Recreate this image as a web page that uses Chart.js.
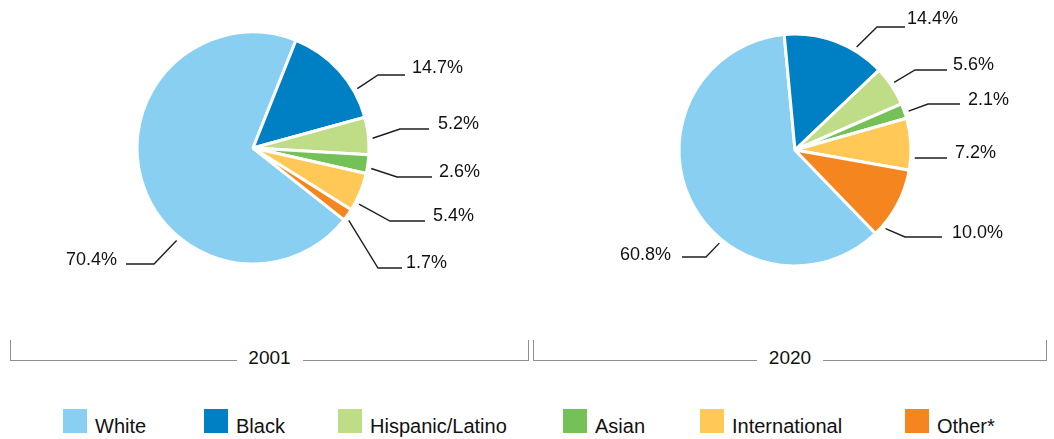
<!DOCTYPE html>
<html>
<head>
<meta charset="utf-8">
<script src="https://cdn.jsdelivr.net/npm/chart.js@4"></script>
<style>
  html, body { margin: 0; padding: 0; background: #fff; }
  #wrap { position: relative; width: 1054px; height: 439px; overflow: hidden; font-family: "Liberation Sans", Arial, sans-serif; color: #111; }
  canvas { position: absolute; top: 0; }
  .bracket { position: absolute; top: 340px; height: 21px; box-sizing: border-box; border: 1.5px solid #8f8f8f; border-top: none; }
  .year { position: absolute; top: 348px; height: 20px; line-height: 20px; font-size: 19px; text-align: center; background: #fff; }
  .lg { position: absolute; top: 409px; height: 24px; }
  .lg .box { position: absolute; left: 0; top: 0; width: 24px; height: 24px; }
  .lg .txt { position: absolute; left: 32px; top: 5px; line-height: 24px; font-size: 20px; white-space: nowrap; }
</style>
</head>
<body>
<div id="wrap">
  <canvas id="c2001" width="527" height="300" style="left:0px"></canvas>
  <canvas id="c2020" width="527" height="300" style="left:527px"></canvas>
</div>
<script>
// ---- data ----
const categories = ['White', 'Black', 'Hispanic/Latino', 'Asian', 'International', 'Other*'];
const years = ['2001', '2020'];
const values2001 = [70.4, 14.7, 5.2, 2.6, 5.4, 1.7];
const values2020 = [60.8, 14.4, 5.6, 2.1, 7.2, 10.0];
const colors = ['#89CFF1', '#0080C4', '#BFDC86', '#74C158', '#FFC857', '#F5851F'];

// ---- layout (positions only) ----
// frac: where along the slice the leader starts; ex/ey: elbow; lx: line end; tx/ty: text anchor
const layout2001 = [
  { frac: 0.36, ex: 154, ey: 264, lx: 126, tx: 117, ty: 265, align: 'right' },
  { frac: 0.73, ex: 378, ey: 75,  lx: 405, tx: 412, ty: 73,  align: 'left' },
  { frac: 0.57, ex: 400, ey: 129, lx: 429, tx: 438, ty: 129, align: 'left' },
  { frac: 0.69, ex: 397, ey: 177, lx: 432, tx: 439, ty: 177, align: 'left' },
  { frac: 0.78, ex: 390, ey: 221, lx: 425, tx: 433, ty: 221, align: 'left' },
  { frac: 0.80, ex: 378, ey: 268, lx: 402, tx: 406, ty: 268, align: 'left' }
];
const layout2020 = [
  { frac: 0.38, ex: 706, ey: 257, lx: 682, tx: 671, ty: 260, align: 'right' },
  { frac: 0.70, ex: 877, ey: 27,  lx: 905, tx: 907, ty: 24,  align: 'left' },
  { frac: 0.46, ex: 915, ey: 70,  lx: 947, tx: 953, ty: 70,  align: 'left' },
  { frac: 0.60, ex: 928, ey: 104, lx: 960, tx: 968, ty: 105, align: 'left' },
  { frac: 0.76, ex: 915, ey: 158, lx: 947, tx: 955, ty: 158, align: 'left' },
  { frac: 0.86, ex: 905, ey: 237, lx: 942, tx: 952, ty: 238, align: 'left' }
];
const legendX = [63, 204, 338, 563, 700, 905];
const bracketX = [[10, 519], [533, 514]];

function makeLeaders(values, layout, offsetX) {
  return {
    id: 'leaders',
    afterDatasetsDraw(chart) {
      const ctx = chart.ctx;
      const meta = chart.getDatasetMeta(0);
      ctx.save();
      ctx.strokeStyle = '#1e1e1e';
      ctx.lineWidth = 1.4;
      ctx.fillStyle = '#111111';
      ctx.font = '18px "Liberation Sans", Arial, sans-serif';
      ctx.textBaseline = 'alphabetic';
      meta.data.forEach((arc, i) => {
        const L = layout[i];
        const p = arc.getProps(['x', 'y', 'startAngle', 'endAngle', 'outerRadius'], true);
        const a = p.startAngle + L.frac * (p.endAngle - p.startAngle);
        const r = p.outerRadius + 4;
        const sx = p.x + r * Math.cos(a), sy = p.y + r * Math.sin(a);
        ctx.beginPath();
        ctx.moveTo(sx, sy);
        ctx.lineTo(L.ex - offsetX, L.ey);
        ctx.lineTo(L.lx - offsetX, L.ey);
        ctx.stroke();
        ctx.textAlign = L.align;
        ctx.fillText(values[i].toFixed(1) + '%', L.tx - offsetX, L.ty);
      });
      ctx.restore();
    }
  };
}

function makePie(id, values, rotation, padding, layout, offsetX) {
  return new Chart(document.getElementById(id), {
    type: 'pie',
    data: {
      labels: categories,
      datasets: [{
        data: values,
        backgroundColor: colors,
        borderColor: '#ffffff',
        borderWidth: 3,
        radius: 116
      }]
    },
    options: {
      responsive: false,
      animation: false,
      devicePixelRatio: 1,
      events: [],
      rotation: rotation,
      layout: { padding: padding },
      plugins: { legend: { display: false }, tooltip: { enabled: false } }
    },
    plugins: [makeLeaders(values, layout, offsetX)]
  });
}

makePie('c2001', values2001, 128.3, { left: 0, right: 21, top: 0, bottom: 4 }, layout2001, 0);
makePie('c2020', values2020, 136.0, { left: 9, right: 0, top: 0, bottom: 0 }, layout2020, 527);

// brackets with year labels
const wrap = document.getElementById('wrap');
years.forEach((y, i) => {
  const [x, w] = bracketX[i];
  const b = document.createElement('div');
  b.className = 'bracket';
  b.style.left = x + 'px';
  b.style.width = w + 'px';
  wrap.appendChild(b);
  const t = document.createElement('div');
  t.className = 'year';
  const lw = 66;
  t.style.left = (x + w / 2 - lw / 2) + 'px';
  t.style.width = lw + 'px';
  t.textContent = y;
  wrap.appendChild(t);
});

// legend
categories.forEach((c, i) => {
  const d = document.createElement('div');
  d.className = 'lg';
  d.style.left = legendX[i] + 'px';
  const bx = document.createElement('div');
  bx.className = 'box';
  bx.style.background = colors[i];
  const tx = document.createElement('div');
  tx.className = 'txt';
  tx.textContent = c;
  d.appendChild(bx);
  d.appendChild(tx);
  wrap.appendChild(d);
});
</script>
</body>
</html>
